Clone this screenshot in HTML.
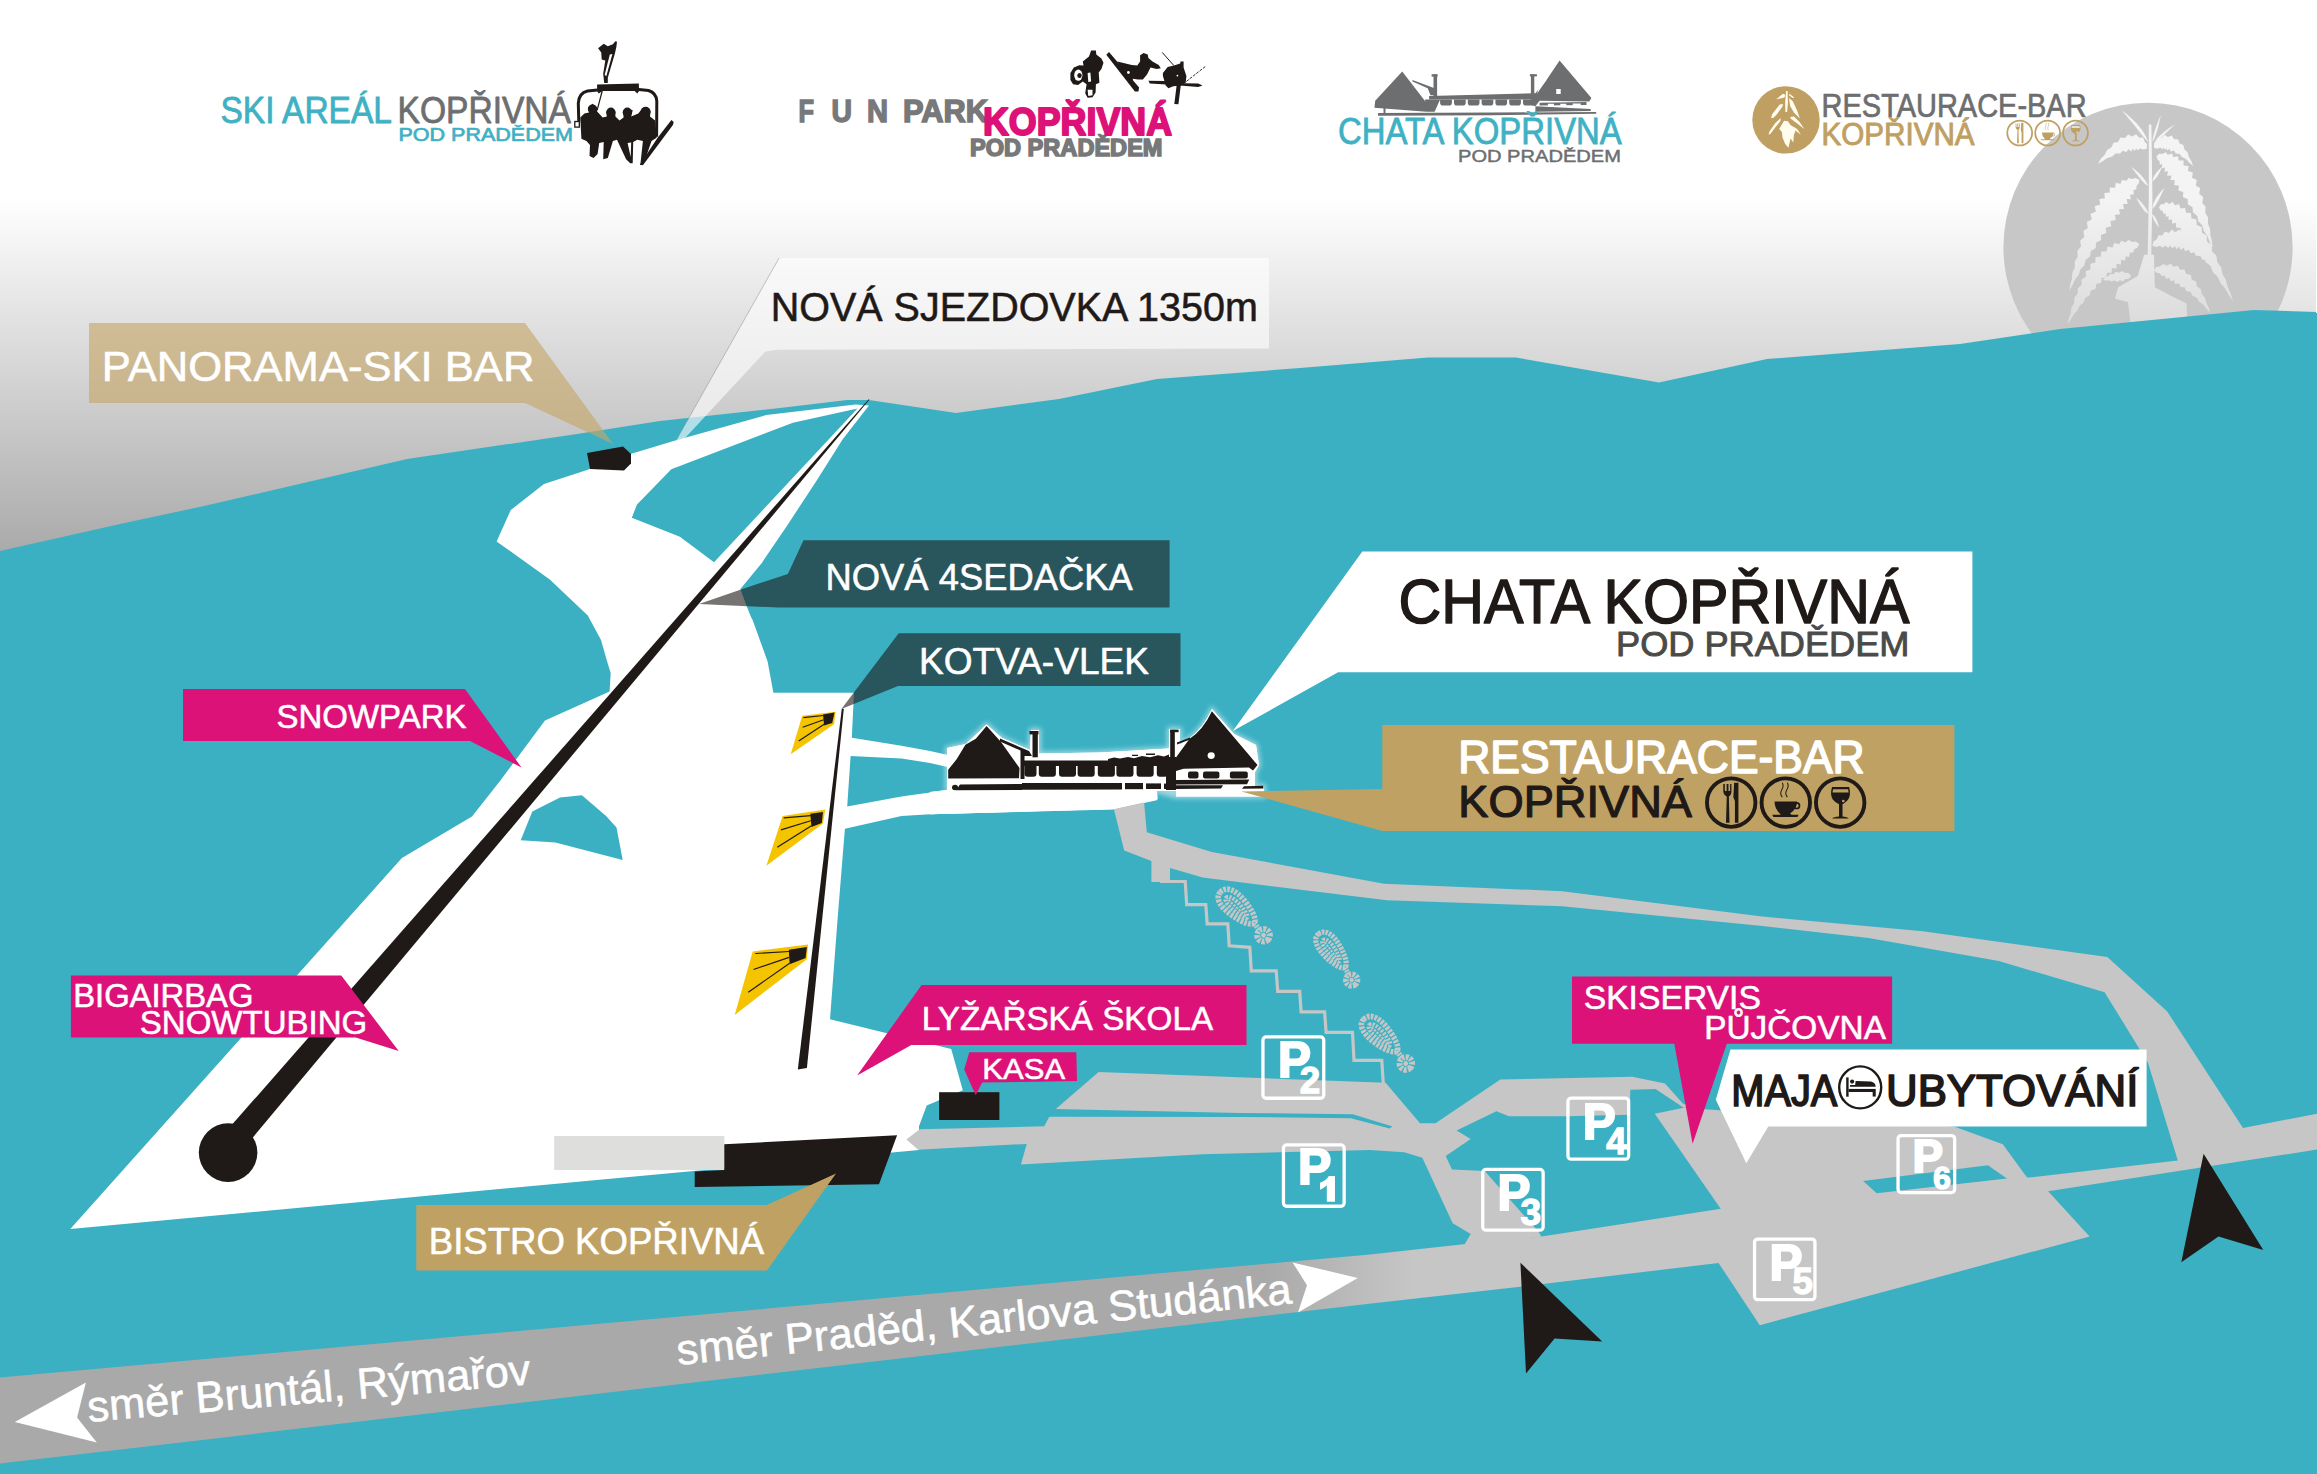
<!DOCTYPE html>
<html><head><meta charset="utf-8"><title>Ski areál Kopřivná - mapa</title>
<style>
html,body{margin:0;padding:0;background:#fff;}
body{width:2317px;height:1474px;overflow:hidden;font-family:"Liberation Sans",sans-serif;}
svg{display:block;position:absolute;left:0;top:0;}
text{font-family:"Liberation Sans",sans-serif;}
#labels text:not([stroke]){stroke:#fff;stroke-width:0.55px;stroke-linejoin:round;}
</style></head><body>
<svg width="2317" height="1474" viewBox="0 0 2317 1474">
<defs>
<linearGradient id="sky" x1="0" y1="0" x2="0" y2="1474" gradientUnits="userSpaceOnUse">
<stop offset="0" stop-color="#ffffff"/><stop offset="0.134" stop-color="#ffffff"/><stop offset="0.38" stop-color="#a8a8a8"/><stop offset="1" stop-color="#a8a8a8"/>
</linearGradient>
<linearGradient id="road" x1="0" y1="0" x2="2317" y2="0" gradientUnits="userSpaceOnUse">
<stop offset="0" stop-color="#a9a9a9"/><stop offset="0.545" stop-color="#a9a9a9"/><stop offset="0.61" stop-color="#c5c6c5"/><stop offset="1" stop-color="#c5c6c5"/>
</linearGradient>
</defs>
<!-- SKY -->
<rect x="0" y="0" width="2317" height="1474" fill="url(#sky)"/>
<!-- BIGCIRCLE -->
<circle cx="2148" cy="247.4" r="144.6" fill="#c6c7c6"/>
<path fill="url(#sky)" opacity="0.8" d="M2148.8,124.4 L2151.4,124.4 L2152.4,197.7 L2151.1,262.8 L2152.4,328.0 L2145.8,328.0 L2147.5,262.8 L2148.8,197.7 Z M2148.3,142.3 L2145.6,135.8 L2141.9,129.8 L2137.5,124.3 L2132.5,119.2 L2127.2,114.5 L2121.4,110.1 L2121.4,110.1 L2126.2,115.5 L2130.7,120.9 L2135.1,126.3 L2139.3,131.8 L2143.6,137.1 L2148.3,142.3 Z M2152.4,142.3 L2154.5,138.2 L2156.2,133.8 L2157.6,129.3 L2158.8,124.6 L2159.8,119.9 L2160.8,115.0 L2160.8,115.0 L2158.9,119.6 L2157.1,124.1 L2155.5,128.7 L2154.0,133.2 L2152.9,137.7 L2152.4,142.3 Z M2154.0,143.2 L2157.9,140.3 L2161.5,137.2 L2164.9,134.0 L2168.3,130.8 L2171.7,127.6 L2175.2,124.4 L2175.2,124.4 L2171.1,126.8 L2167.2,129.5 L2163.4,132.4 L2159.9,135.6 L2156.7,139.1 L2154.0,143.2 Z M2146.7,148.9 L2147.1,144.1 L2144.7,141.9 L2143.1,137.5 L2139.2,137.7 L2136.1,134.2 L2132.2,136.5 L2128.1,134.4 L2125.0,138.1 L2120.5,137.5 L2118.0,141.9 L2113.6,142.8 L2111.3,147.5 L2107.1,150.0 L2104.6,154.9 L2100.8,158.8 L2097.8,163.8 L2097.8,163.8 L2103.0,161.1 L2107.2,157.9 L2112.3,156.6 L2115.5,153.6 L2120.2,153.6 L2122.6,150.7 L2126.6,152.1 L2128.4,149.2 L2131.3,151.5 L2132.8,148.6 L2134.4,151.1 L2136.4,148.4 L2137.4,150.3 L2140.4,148.4 L2142.2,149.6 L2146.7,148.9 Z M2154.0,148.0 L2158.2,148.7 L2160.0,147.6 L2162.8,149.3 L2163.6,147.6 L2165.1,150.1 L2166.4,148.0 L2167.2,150.6 L2169.7,148.8 L2170.6,151.4 L2174.2,150.6 L2175.6,153.4 L2179.7,154.0 L2181.9,157.1 L2186.0,159.1 L2189.1,162.6 L2193.1,166.0 L2193.1,166.0 L2191.4,161.0 L2188.9,156.9 L2187.6,152.2 L2184.5,149.4 L2183.3,144.9 L2179.6,143.4 L2178.1,139.2 L2174.1,139.2 L2171.7,135.5 L2167.8,137.1 L2164.5,134.8 L2161.4,137.9 L2157.9,137.6 L2156.3,141.6 L2153.9,143.5 L2154.0,148.0 Z M2148.3,186.3 L2146.6,182.4 L2144.2,178.9 L2141.4,175.6 L2138.3,172.5 L2134.8,169.6 L2131.2,166.8 L2131.2,166.8 L2133.9,170.5 L2136.6,174.0 L2139.3,177.5 L2142.0,180.7 L2144.9,183.7 L2148.3,186.3 Z M2152.4,181.4 L2154.9,179.3 L2156.9,176.9 L2158.5,174.4 L2159.9,171.8 L2161.2,169.1 L2162.5,166.4 L2162.5,166.4 L2160.2,168.4 L2158.1,170.5 L2156.2,172.8 L2154.4,175.4 L2153.1,178.2 L2152.4,181.4 Z M2148.3,214.0 L2147.3,210.6 L2145.6,207.7 L2143.5,204.9 L2141.2,202.3 L2138.7,199.8 L2136.1,197.4 L2136.1,197.4 L2137.7,200.6 L2139.4,203.7 L2141.3,206.6 L2143.2,209.4 L2145.5,211.9 L2148.3,214.0 Z M2152.4,209.1 L2155.2,205.9 L2157.3,202.4 L2159.2,198.9 L2161.0,195.3 L2162.8,191.6 L2164.6,187.9 L2164.6,187.9 L2161.6,190.8 L2158.9,194.0 L2156.5,197.3 L2154.5,200.9 L2152.9,204.8 L2152.4,209.1 Z M2152.0,214.0 L2152.4,216.6 L2153.3,219.0 L2154.5,221.3 L2155.9,223.5 L2157.5,225.7 L2159.2,227.8 L2159.2,227.8 L2158.5,225.2 L2157.7,222.6 L2156.7,220.1 L2155.6,217.8 L2154.1,215.7 L2152.0,214.0 Z M2139.3,179.8 L2135.3,177.9 L2132.7,179.1 L2128.4,178.0 L2126.6,180.8 L2121.8,179.9 L2120.7,183.7 L2115.6,183.1 L2115.1,187.7 L2109.7,187.5 L2109.8,192.6 L2104.3,192.9 L2104.9,198.3 L2099.3,199.1 L2100.2,204.7 L2094.7,206.0 L2095.8,211.8 L2090.6,213.7 L2091.7,219.6 L2086.8,222.1 L2087.9,228.0 L2083.4,231.0 L2084.3,237.0 L2080.2,240.6 L2081.0,246.5 L2077.4,250.7 L2077.8,256.7 L2074.8,261.4 L2074.8,267.4 L2072.4,272.6 L2071.9,278.7 L2070.2,284.4 L2069.3,290.5 L2069.3,290.5 L2072.5,285.2 L2074.9,279.8 L2078.6,275.0 L2080.3,269.6 L2084.5,265.3 L2085.6,260.0 L2090.2,256.3 L2090.8,251.0 L2095.8,247.9 L2095.9,242.7 L2101.2,240.1 L2100.9,234.9 L2106.3,232.9 L2105.7,227.7 L2111.3,226.2 L2110.4,221.0 L2115.9,220.0 L2114.8,214.9 L2120.1,214.3 L2119.0,209.2 L2124.0,209.1 L2123.0,204.0 L2127.6,204.1 L2126.7,199.1 L2130.8,199.3 L2130.2,194.5 L2133.7,194.5 L2133.5,190.1 L2136.3,189.6 L2136.6,185.6 L2138.6,184.0 L2139.3,179.8 Z M2156.4,156.2 L2157.7,159.9 L2159.4,160.8 L2159.9,164.4 L2162.2,164.2 L2162.0,168.2 L2165.0,167.6 L2164.4,171.8 L2168.0,171.3 L2167.1,175.7 L2171.4,175.5 L2170.4,180.0 L2175.0,180.3 L2174.1,184.9 L2179.0,185.8 L2178.3,190.5 L2183.3,192.1 L2182.9,196.9 L2187.8,199.2 L2187.8,204.2 L2192.5,207.2 L2192.9,212.3 L2197.3,215.9 L2198.3,221.2 L2202.3,225.6 L2203.8,231.1 L2207.3,236.1 L2209.6,241.7 L2212.6,247.4 L2212.6,247.4 L2211.9,241.0 L2210.4,235.1 L2210.1,228.9 L2207.9,223.6 L2208.1,217.5 L2205.2,212.8 L2205.7,207.0 L2202.3,202.9 L2203.1,197.1 L2199.2,193.7 L2200.2,188.1 L2195.8,185.4 L2196.8,179.9 L2192.0,177.8 L2192.9,172.5 L2188.0,171.1 L2188.6,166.0 L2183.5,165.4 L2183.6,160.5 L2178.6,160.6 L2178.1,156.2 L2173.3,156.9 L2172.1,153.4 L2167.7,154.7 L2165.8,152.2 L2162.0,154.0 L2159.5,153.5 L2156.4,156.2 Z M2158.9,207.5 L2160.8,210.4 L2162.5,210.8 L2163.5,213.9 L2165.4,213.3 L2165.9,216.9 L2168.5,216.0 L2168.6,219.9 L2172.0,219.2 L2172.0,223.4 L2176.1,223.1 L2176.0,227.6 L2180.7,227.9 L2180.8,232.6 L2185.8,233.6 L2186.1,238.5 L2191.4,240.2 L2192.1,245.4 L2197.4,247.8 L2198.6,253.2 L2203.8,256.4 L2205.5,262.1 L2210.6,266.1 L2212.8,272.0 L2217.7,276.7 L2220.5,282.9 L2225.1,288.4 L2228.7,294.8 L2233.0,301.1 L2233.0,301.1 L2230.7,293.8 L2227.7,287.1 L2225.9,280.1 L2222.5,274.2 L2221.2,267.4 L2217.3,262.3 L2216.4,255.8 L2212.1,251.4 L2211.6,245.1 L2207.0,241.5 L2206.7,235.5 L2201.9,232.7 L2201.7,226.9 L2196.7,224.9 L2196.5,219.4 L2191.4,218.3 L2191.0,213.1 L2186.0,212.7 L2185.2,208.0 L2180.4,208.4 L2179.2,204.3 L2174.7,205.3 L2172.8,202.1 L2168.9,203.9 L2166.5,202.0 L2163.4,204.2 L2160.9,204.3 L2158.9,207.5 Z M2139.3,244.1 L2135.7,241.5 L2132.5,242.0 L2128.4,240.1 L2125.7,242.4 L2121.2,240.8 L2119.1,244.3 L2114.1,243.0 L2112.6,247.4 L2107.4,246.6 L2106.5,251.6 L2101.2,251.4 L2100.7,256.7 L2095.5,257.1 L2095.4,262.6 L2090.4,263.8 L2090.4,269.4 L2085.7,271.2 L2085.9,276.8 L2081.5,279.4 L2081.6,285.0 L2077.8,288.2 L2077.7,293.8 L2074.4,297.6 L2074.1,303.2 L2071.4,307.7 L2070.7,313.2 L2068.8,318.3 L2067.7,323.9 L2067.7,323.9 L2071.0,319.3 L2073.6,314.6 L2077.4,310.6 L2079.4,305.9 L2083.6,302.6 L2085.1,297.9 L2089.7,295.3 L2090.7,290.7 L2095.6,288.7 L2096.2,284.1 L2101.3,282.8 L2101.6,278.1 L2106.7,277.5 L2106.7,272.8 L2111.8,272.8 L2111.7,268.1 L2116.5,268.5 L2116.5,263.8 L2120.9,264.5 L2121.1,259.8 L2125.0,260.7 L2125.6,256.2 L2129.0,256.9 L2130.1,252.6 L2133.0,252.8 L2134.6,249.0 L2137.2,248.0 L2139.3,244.1 Z M2131.2,275.9 L2128.2,272.8 L2125.2,272.9 L2122.0,271.0 L2119.2,272.8 L2116.0,271.7 L2113.3,274.2 L2110.3,274.1 L2107.8,276.6 L2105.1,277.7 L2102.7,279.9 L2102.7,279.9 L2105.8,280.6 L2108.7,280.3 L2111.8,281.6 L2114.4,280.5 L2117.5,282.0 L2120.0,280.3 L2122.9,281.4 L2125.5,279.1 L2128.4,279.0 L2131.2,275.9 Z M2152.4,245.7 L2156.8,246.9 L2159.5,245.7 L2163.2,247.4 L2165.2,245.4 L2168.3,247.9 L2170.2,245.5 L2172.5,248.5 L2174.7,245.9 L2176.5,249.2 L2179.1,246.6 L2180.5,250.0 L2183.8,247.8 L2185.0,251.2 L2188.9,249.7 L2190.2,253.1 L2194.4,252.4 L2195.9,255.8 L2200.3,256.1 L2202.3,259.5 L2206.6,260.8 L2209.0,264.2 L2213.1,266.6 L2216.1,270.1 L2219.9,273.4 L2219.9,273.4 L2218.2,268.7 L2215.6,264.7 L2214.2,260.0 L2211.0,256.9 L2209.7,252.2 L2206.1,250.0 L2204.8,245.3 L2200.8,244.1 L2199.4,239.4 L2195.1,239.2 L2193.3,234.7 L2188.9,235.5 L2186.5,231.3 L2182.3,233.1 L2179.3,229.4 L2175.4,232.2 L2171.9,229.5 L2168.7,233.0 L2164.9,231.5 L2162.3,235.4 L2158.6,235.3 L2156.6,239.4 L2153.6,241.2 L2152.4,245.7 Z M2154.0,270.2 L2157.1,273.1 L2159.7,273.3 L2162.0,276.3 L2164.6,275.5 L2166.2,278.9 L2169.2,277.7 L2170.5,281.3 L2174.0,280.3 L2175.1,284.0 L2179.2,283.4 L2180.3,287.1 L2184.7,287.2 L2186.1,291.0 L2190.6,292.0 L2192.5,295.8 L2196.9,297.8 L2199.2,301.7 L2203.4,304.6 L2206.4,308.7 L2210.2,312.5 L2210.2,312.5 L2208.6,307.3 L2206.2,302.8 L2204.9,297.8 L2201.8,294.1 L2200.7,289.1 L2197.0,286.4 L2196.0,281.4 L2191.8,279.7 L2190.7,274.8 L2186.2,274.1 L2184.6,269.5 L2180.0,269.7 L2177.9,265.7 L2173.5,266.8 L2170.8,263.7 L2166.6,265.7 L2163.5,263.9 L2159.9,266.4 L2156.7,266.7 L2154.0,270.2 Z M2114.9,298.7 L2118.2,287.3 L2137.7,275.9 L2144.2,254.7 L2154.0,254.7 L2154.8,287.3 L2170.3,295.4 L2186.6,303.6 L2187.4,328.0 L2131.2,328.0 L2127.9,301.9 Z"/>
<!-- TEAL GROUND -->
<path id="ground" fill="#3bb0c3" d="M0,551 L120,524 L204,506 L407,459 L577,434 L660,421 L780,408 L847,400 L869,400 L956,413 L1059,399 L1157,379 L1300,368 L1428,357.5 L1516,357.5 L1659,382.5 L1767,359 L1960,344 L2060,329 L2254,310 L2317,312 L2317,1474 L0,1474 Z"/>
<rect x="2316" y="0" width="1" height="313" fill="#fff"/>
<!-- SLOPES -->
<g id="slopes">
<path fill="#ffffff" d="M869,405.5 L855.6,404.5 L766.3,415 L677,440 L630.5,454 L587,470 L544,484 L510.8,510 L496.6,541.4 L549.8,579.4 L587.8,615.5 L601,640 L606.7,660 L610.7,673 L609.6,691.5 L545,720.4 L500.8,780 L472,816.5 L401.9,858 L70.3,1229 L919,1150 L919,1126.3 L926.7,1105.6 L962.8,1090.2 L951.2,1048.9 L830,1019.3 L837.5,920 L844.9,828.8 L901.4,816.1 L930,814.3 L1113.3,809.6 L1156.8,800.3 L1156.8,780 L948,755 L930,751 L901.4,745.7 L851.8,737.7 L854,692.7 L773.4,692.7 L767.6,661.5 L752.6,620 L751,617 L746.5,605.7 L740.4,588.9 L761.8,562.9 L787.7,524.7 L816.7,480.5 L842.7,439.3 Z"/>
<!-- teal notch below upper arm -->
<path fill="#3bb0c3" d="M857.5,408.5 L792.9,422.7 L671.3,469.3 L637,504.4 L631.8,517.7 L679.9,536.7 L714,562.3 Z"/>
<!-- teal blob in slope -->
<path fill="#3bb0c3" d="M520.7,840.3 L532.3,811.5 L560,797.6 L581.9,795.3 L606.1,816 L616.5,827.6 L622.7,860 L555.4,842.6 Z"/>
<!-- teal block between paths -->
<path fill="#3bb0c3" d="M850.6,756.1 L901.4,758.4 L930,763 L952,768 L952,791.9 L930,792.5 L901.4,796.5 L847.2,806.4 Z"/>
<!-- chairlift line (tapered) -->
<path fill="#1f1a17" d="M869.5,399.6 L868.7,399.2 L225.5,1132.1 L244.1,1147.9 Z"/>
<circle cx="228.1" cy="1152.6" r="29.3" fill="#1f1a17"/>
<!-- kotva line -->
<path fill="#1f1a17" d="M841.8,708.8 L843.8,708.8 L806.9,1068 L797.8,1069.5 Z"/>
</g>
<!-- ROADS -->
<g id="roads" fill="#c5c6c5">
<!-- main road bottom -->
<path fill="url(#road)" d="M0,1377.6 L1370,1254.4 L1463.6,1244.3 L1541.7,1236.5 L1722.7,1208.4 L1760,1262 L1720.7,1262.7 L1520.4,1286.7 L1380,1302.5 L0,1463.5 Z"/>
<!-- road from chata to the right + exit -->
<path d="M1113.6,808 L1143.8,799 L1146.8,832.3 L1211.8,852 L1384,883.7 L1562.2,891.2 L1760,916.3 L1922.8,931.2 L2107.3,957 L2167,1011.2 L2243,1127.9 L2317,1113.8 L2317,1149.6 L2044.9,1191.7 L2024.5,1178.1 L2177.8,1160.5 L2148,1062.8 L2104.6,992.2 L1998.8,961 L1868.5,938 L1760,925.8 L1562.2,906.3 L1387,900.3 L1202.7,877.6 L1170,868 L1170,882 L1151.4,882 L1151.4,861 L1124.2,850.4 Z"/>
<!-- stairs -->
<path fill="none" stroke="#c5c6c5" stroke-width="3.2" stroke-linejoin="miter" d="M1160,881.5 L1185.2,881.5 L1186.7,904.7 L1205.8,904.7 L1207.2,923.8 L1227.8,923.8 L1229.2,945.8 L1249.8,947.3 L1251.3,970.8 L1276.2,970.8 L1277.7,991.3 L1299.7,991.3 L1301.1,1011.8 L1324.6,1011.8 L1326.1,1032.4 L1352.5,1032.4 L1354,1060.3 L1381.8,1060.3 L1383.3,1084"/>
<g id="feet"><g transform="translate(1237,908) rotate(43.5) scale(1.0)" fill="none" stroke="#c5c6c5">
<path d="M-23,0 C-23,-9.5 -12,-12 0,-10.5 C12,-9 21,-6 23,-1.5 C23,3 14,7 0,9 C-12,10.5 -23,8.5 -23,0 Z" stroke-width="5.6" stroke-dasharray="2.7 1.2"/>
<path d="M-15,0 C-15,-4.2 -6,-5.2 2,-4.2 C9,-3.2 14,-2 14,0 C14,2 9,3 2,3.8 C-6,4.8 -15,4 -15,0 Z" stroke-width="4.2" stroke-dasharray="2.2 1.3"/>
<path d="M-12,0 L12,0" stroke-width="2.2" stroke-dasharray="2.4 1.2"/>
<path d="M23,-1 L31,0.5" stroke-width="5.5" stroke-dasharray="2 1.1"/>
<circle cx="38" cy="1.5" r="6.3" stroke-width="6" stroke-dasharray="2.8 1.2"/>
<circle cx="38" cy="1.5" r="2.4" fill="#c5c6c5" stroke="none"/>
</g><g transform="translate(1331.5,951) rotate(53) scale(0.93)" fill="none" stroke="#c5c6c5">
<path d="M-23,0 C-23,-9.5 -12,-12 0,-10.5 C12,-9 21,-6 23,-1.5 C23,3 14,7 0,9 C-12,10.5 -23,8.5 -23,0 Z" stroke-width="5.6" stroke-dasharray="2.7 1.2"/>
<path d="M-15,0 C-15,-4.2 -6,-5.2 2,-4.2 C9,-3.2 14,-2 14,0 C14,2 9,3 2,3.8 C-6,4.8 -15,4 -15,0 Z" stroke-width="4.2" stroke-dasharray="2.2 1.3"/>
<path d="M-12,0 L12,0" stroke-width="2.2" stroke-dasharray="2.4 1.2"/>
<path d="M23,-1 L31,0.5" stroke-width="5.5" stroke-dasharray="2 1.1"/>
<circle cx="38" cy="1.5" r="6.3" stroke-width="6" stroke-dasharray="2.8 1.2"/>
<circle cx="38" cy="1.5" r="2.4" fill="#c5c6c5" stroke="none"/>
</g><g transform="translate(1380,1035.5) rotate(45) scale(1.0)" fill="none" stroke="#c5c6c5">
<path d="M-23,0 C-23,-9.5 -12,-12 0,-10.5 C12,-9 21,-6 23,-1.5 C23,3 14,7 0,9 C-12,10.5 -23,8.5 -23,0 Z" stroke-width="5.6" stroke-dasharray="2.7 1.2"/>
<path d="M-15,0 C-15,-4.2 -6,-5.2 2,-4.2 C9,-3.2 14,-2 14,0 C14,2 9,3 2,3.8 C-6,4.8 -15,4 -15,0 Z" stroke-width="4.2" stroke-dasharray="2.2 1.3"/>
<path d="M-12,0 L12,0" stroke-width="2.2" stroke-dasharray="2.4 1.2"/>
<path d="M23,-1 L31,0.5" stroke-width="5.5" stroke-dasharray="2 1.1"/>
<circle cx="38" cy="1.5" r="6.3" stroke-width="6" stroke-dasharray="2.8 1.2"/>
<circle cx="38" cy="1.5" r="2.4" fill="#c5c6c5" stroke="none"/>
</g></g>
<!-- parking roads -->
<path d="M906.4,1139.5 L919.6,1129.2 L1044.3,1126.3 L1048.8,1117.5 L1056.1,1108.7 L1098.6,1072 L1385.6,1082.8 L1420,1123.3 L1435.5,1123.3 L1500.3,1079.6 L1632.2,1076.8 L1665,1083.6 L1683.7,1104.6 L1700,1100 L1700,1106 L1683.7,1107.7 L1655.6,1089 L1630.3,1089.8 L1629.8,1114.8 L1566.6,1116.3 L1508.9,1116.3 L1496.4,1111.3 L1456.6,1130.4 L1470.7,1139 L1445.7,1156 L1452,1169.4 L1484.7,1171 L1537.8,1231 L1541.7,1236.5 L1463.6,1246 L1470.7,1234.1 L1452.7,1223.2 L1422.3,1157.7 L1404.3,1152.2 L1370,1149.9 L1202.8,1154.2 L1020.9,1164.5 L1026.7,1143.9 L918.2,1149.8 Z"/>
<!-- thin teal sliver between strips -->
<path fill="#3bb0c3" d="M1054.2,1109.1 L1240,1112.9 L1352.8,1114.3 L1392.5,1126.6 L1389.5,1128.6 L1351,1118.3 L1240,1117 L1049.9,1116.8 L1047,1117.6 L1055,1108 Z"/>
<!-- big lot P5/P6 -->
<path d="M1654.8,1113.7 L1683.7,1107.7 L1954,1126.5 L2002.8,1144.2 L2026.5,1176.8 L2047,1190 L2089.6,1236.4 L1759.8,1325.2 L1718.7,1263.2 L1720.7,1208.8 Z"/>
<path fill="#3bb0c3" d="M1863.1,1181 L1987.9,1165.2 L2006.9,1178.6 L1876.7,1193.3 Z"/>
</g>
<!-- BUILDINGS -->
<g id="buildings">
<path fill="#1f1a17" d="M587,453 L623,446.5 L631,454 L631,463.5 L624,470.5 L590,469 Z"/>
<rect x="554.2" y="1136" width="170.2" height="34" fill="#dededd"/>
<path fill="#1f1a17" d="M724.3,1144.3 L897.1,1135.3 L879,1184.3 L694.7,1186.9 L694.7,1171.4 L724.3,1170 Z"/>
<rect x="939.1" y="1092.2" width="60.3" height="27.8" fill="#1f1a17"/>
<path fill="#f5c400" d="M802.2,715.7 L835.7,711.8 L834.0,724.3 L790.7,754.3 Z"/><path fill="#1f1a17" d="M823.0,714.6 L834.5,712.5 L832.2,723.1 L824.1,725.4 Z"/><line x1="803.4" y1="717.6" x2="823.4" y2="715.5" stroke="#1f1a17" stroke-width="1.2"/><line x1="802.7" y1="727.3" x2="823.7" y2="719.7" stroke="#1f1a17" stroke-width="1.2"/><line x1="798.7" y1="741.1" x2="824.1" y2="724.3" stroke="#1f1a17" stroke-width="1.2"/>
<path fill="#f5c400" d="M782.6,816.1 L825.3,809.6 L823.0,823.5 L766.4,865.7 Z"/><path fill="#1f1a17" d="M810.3,813.8 L823.0,811.9 L821.8,823.0 L811.4,826.9 Z"/><line x1="783.7" y1="817.9" x2="810.7" y2="815.6" stroke="#1f1a17" stroke-width="1.2"/><line x1="781.0" y1="829.9" x2="810.7" y2="820.7" stroke="#1f1a17" stroke-width="1.2"/><line x1="777.3" y1="847.2" x2="811.4" y2="825.8" stroke="#1f1a17" stroke-width="1.2"/>
<path fill="#f5c400" d="M752.7,951.5 L808.1,944.5 L806.9,959.2 L734.7,1014.9 Z"/><path fill="#1f1a17" d="M788.8,949.7 L806.9,947.1 L805.6,957.9 L789.6,964.3 Z"/><line x1="755.3" y1="953.5" x2="789.1" y2="951.5" stroke="#1f1a17" stroke-width="1.2"/><line x1="753.5" y1="969.5" x2="789.1" y2="957.4" stroke="#1f1a17" stroke-width="1.2"/><line x1="748.3" y1="992.2" x2="789.6" y2="963.3" stroke="#1f1a17" stroke-width="1.2"/>
<g id="chata">
<defs><filter id="glow" x="-10%" y="-30%" width="120%" height="160%"><feGaussianBlur stdDeviation="2.6"/></filter></defs>
<path id="chbase" fill="#ffffff" d="M947,771 L947,748 L966,744 L986.6,724.5 L1002,738 L1030,750 L1031,730 L1039,730 L1039,753.5 L1100,752.5 L1169,748.5 L1169,729 L1180,729 L1180,744.5 L1190.5,737.5 Q1203,728 1212,709 L1234,734 L1256,745 L1259,765 L1255,772 L1255,786 L1264,786 L1264,796.5 L1176,796.5 L1176,791 L1157,791 L1157.5,799.3 L1113.6,809 L930,814.3 L930,792 L947,790 Z"/>
<path fill="#ffffff" stroke="#ffffff" stroke-width="4" opacity="0.5" filter="url(#glow)" d="M947,771 L947,748 L966,744 L986.6,724.5 L1002,738 L1030,750 L1031,730 L1039,730 L1039,753.5 L1100,752.5 L1169,748.5 L1169,729 L1180,729 L1180,744.5 L1190.5,737.5 Q1203,728 1212,709 L1234,734 L1256,745 L1259,765 L1255,772 L1255,786 L1264,786 L1264,796.5 L1176,796.5 L1157,791 L947,790 Z"/>
<use href="#chbase"/>
<g fill="#1f1a17">
<!-- left roof -->
<path d="M986.6,726 L975.8,738.8 L965.4,744.8 L956.8,759 L948.2,769.8 L948.2,778.6 L1019,778.2 L1019.5,768 L1001,742 Z"/>
<path d="M1000,738.5 L1029,751 L1032,756 L1024.5,756 L1024.5,779 L1020.5,779 L1020.5,750.5 L1000,741.5 Z"/>
<rect x="1032.5" y="731.3" width="5.3" height="26"/><rect x="1029.5" y="731" width="9" height="3.4"/>
<path d="M960,784.6 L1022,784 L1022,790 L956,790.3 Z"/><ellipse cx="955" cy="787.5" rx="3" ry="2.8"/>
<!-- middle -->
<rect x="1022" y="760.5" width="154" height="5.5"/>
<path d="M1024.5,764 L1036.5,764 L1036.5,773.5 Q1036.5,776.8 1033.5,776.8 L1027.5,776.8 Q1024.5,776.8 1024.5,773.5 Z"/><path d="M1038.8,764 L1055.9,764 L1055.9,773.5 Q1055.9,776.8 1052.9,776.8 L1041.8,776.8 Q1038.8,776.8 1038.8,773.5 Z"/><path d="M1059,764 L1076,764 L1076,773.5 Q1076,776.8 1073,776.8 L1062,776.8 Q1059,776.8 1059,773.5 Z"/><path d="M1077.6,764 L1094.7,764 L1094.7,773.5 Q1094.7,776.8 1091.7,776.8 L1080.6,776.8 Q1077.6,776.8 1077.6,773.5 Z"/><path d="M1097.8,764 L1114.9,764 L1114.9,773.5 Q1114.9,776.8 1111.9,776.8 L1100.8,776.8 Q1097.8,776.8 1097.8,773.5 Z"/><path d="M1116.4,764 L1133.5,764 L1133.5,773.5 Q1133.5,776.8 1130.5,776.8 L1119.4,776.8 Q1116.4,776.8 1116.4,773.5 Z"/><path d="M1136.6,764 L1153.7,764 L1153.7,773.5 Q1153.7,776.8 1150.7,776.8 L1139.6,776.8 Q1136.6,776.8 1136.6,773.5 Z"/><path d="M1156.8,764 L1167.7,764 L1167.7,773.5 Q1167.7,776.8 1164.7,776.8 L1159.8,776.8 Q1156.8,776.8 1156.8,773.5 Z"/>
<path d="M1022,783 L1122,783 L1122,789.4 L1022,789.8 Z"/>
<rect x="1125" y="783" width="18" height="6.2"/><rect x="1146" y="783.4" width="15" height="5.6"/><rect x="1164" y="783.6" width="12" height="5.4"/>
<path d="M1108,759 L1114,757.6 L1120,758.6 L1128,757 L1134,758.2 L1142,756 L1150,757.2 L1158,755.2 L1164,756.4 L1169,754.6 L1169,761 L1108,761 Z"/><path d="M1146,753.4 h9 v1.6 h-9 Z M1132,754.8 h6 v1.2 h-6 Z"/>
<!-- right roof -->
<path d="M1211.9,711.2 L1257.5,765 L1253,770.4 L1249,767.5 L1183.6,768.7 L1176,771 L1176,757.5 L1189.6,738.8 Q1203,730 1211.9,711.2 Z"/>
<rect x="1170.2" y="729.9" width="4.6" height="60"/><rect x="1170.2" y="729.6" width="8.4" height="2.6"/>
<path d="M1177,742.5 L1190,737.5 L1190,739.5 L1177,744.5 Z"/>
<rect x="1166" y="757" width="10" height="33"/>
<!-- right wall -->
<rect x="1188" y="771.6" width="10.5" height="6.8" rx="2"/><rect x="1203" y="771.6" width="16.4" height="6.8" rx="2"/><rect x="1229.9" y="771.6" width="17.9" height="6.8" rx="2"/>
<path d="M1174.6,779.9 L1249.3,779.5 L1247,784.3 L1174.6,784.6 Z"/>
<path d="M1174.6,785.3 L1223,785.3 L1221,788.6 L1174.6,789 Z"/>
<path d="M1244,786.2 L1263.4,785.8 L1263.4,788.6 L1242,788.8 Z"/>
</g>
<ellipse cx="1211.2" cy="755.6" rx="3.6" ry="3.4" fill="#ffffff"/>
<path fill="#ffffff" d="M1236.6,737.3 L1255.2,746.3 L1255.2,762 Z"/>
</g>
<!-- black arrows -->
<path fill="#1f1a17" d="M1520.4,1262.7 L1602.2,1341.6 L1554.6,1338.4 L1526,1373.4 Z"/>
<path fill="#1f1a17" d="M2203.6,1153.7 L2263.3,1250 L2218.5,1236.4 L2181.3,1262.2 Z"/>
<!-- white arrows on main road -->
<path fill="#ffffff" d="M14.8,1421.9 L85.9,1382.5 L77.1,1417.6 L96.8,1442.5 Z"/>
<path fill="#ffffff" d="M1357.8,1278 L1292.6,1262.4 L1307,1285.2 L1298,1312.4 Z"/>
</g>
<!-- LABELS -->
<g id="labels">
<!-- panorama -->
<path fill="#c5a767" fill-opacity="0.62" d="M89,323 L525,323 L613,444 L525,403 L89,403 Z"/>
<text x="101.8" y="381.4" font-size="42.7" fill="#fff" text-anchor="start" font-weight="normal" textLength="432.6" lengthAdjust="spacingAndGlyphs">PANORAMA-SKI BAR</text>
<!-- nova sjezdovka -->
<path fill="#ffffff" fill-opacity="0.6" d="M779.1,258 L1269,258 L1269,348.6 L779,349.8 Q768,350.5 765,352 L684.4,438.8 L676.3,440.2 Z"/><path d="M779.1,258 L676.3,440.2" stroke="#8a8a8a" stroke-width="0.7" stroke-opacity="0.7" fill="none"/>

<text stroke="#1f1a17" stroke-width="0.55" x="770.8" y="321" font-size="39.8" fill="#1f1a17" text-anchor="start" font-weight="normal" textLength="487" lengthAdjust="spacingAndGlyphs">NOVÁ SJEZDOVKA 1350m</text>
<!-- nova 4sedacka -->
<path fill="#1e1c1a" fill-opacity="0.61" d="M803.5,540.2 L1169.6,540.2 L1169.6,607.6 L778.6,607.6 L699,604 L741,589.5 L787.9,573.9 Z"/>
<text x="825.5" y="589.5" font-size="37.4" fill="#fff" text-anchor="start" font-weight="normal" textLength="307.3" lengthAdjust="spacingAndGlyphs">NOVÁ 4SEDAČKA</text>
<!-- kotva -->
<path fill="#1e1c1a" fill-opacity="0.61" d="M898.7,633.2 L1180.5,633.2 L1180.5,686 L898,686 L841.4,709 Z"/>
<text x="919" y="673.5" font-size="36.8" fill="#fff" text-anchor="start" font-weight="normal" textLength="230" lengthAdjust="spacingAndGlyphs">KOTVA-VLEK</text>
<!-- snowpark -->
<path fill="#dc1279" d="M183,689 L465,689 L521.5,767.5 L470,741 L183,741 Z"/>
<text x="276.5" y="728.2" font-size="32.6" fill="#fff" text-anchor="start" font-weight="normal" textLength="190" lengthAdjust="spacingAndGlyphs">SNOWPARK</text>
<!-- bigairbag -->
<path fill="#dc1279" d="M70.9,975.5 L341.3,975.5 L398.7,1051 L355.7,1037.6 L70.9,1037.6 Z"/>
<text x="73.2" y="1007.3" font-size="32.6" fill="#fff" text-anchor="start" font-weight="normal" textLength="180.2" lengthAdjust="spacingAndGlyphs">BIGAIRBAG</text>
<text x="139.8" y="1033.9" font-size="32.8" fill="#fff" text-anchor="start" font-weight="normal" textLength="227.4" lengthAdjust="spacingAndGlyphs">SNOWTUBING</text>
<!-- lyzarska -->
<path fill="#dc1279" d="M921.6,985 L1246.5,985 L1246.5,1045 L911.3,1045 L857.1,1075.5 Z"/>
<!-- kasa -->
<path fill="#dc1279" d="M969.3,1052.3 L1076.3,1052.3 L1077,1081.1 L982.2,1082.4 L975.7,1095.3 L964.2,1069.5 Z"/>
<!-- bistro -->
<path fill="#bfa263" d="M416.3,1204.9 L766.9,1204.9 L836,1173.4 L766.9,1270.6 L416.3,1270.6 Z"/>
<!-- chata label -->
<path fill="#ffffff" d="M1362.3,551.4 L1972.4,551.4 L1972.4,672.3 L1338.1,672.3 L1232.8,731 Z"/>
<text stroke="#1f1a17" stroke-width="1.5" stroke-linejoin="round" x="1398.5" y="623.2" font-size="62.8" fill="#1f1a17" text-anchor="start" font-weight="normal" textLength="511" lengthAdjust="spacingAndGlyphs">CHATA KOPŘIVNÁ</text>
<text stroke="#4a4a49" stroke-width="0.9" stroke-linejoin="round" x="1616" y="656" font-size="34.5" fill="#4a4a49" text-anchor="start" font-weight="normal" textLength="293.5" lengthAdjust="spacingAndGlyphs">POD PRADĚDEM</text>
<!-- restaurace label -->
<path fill="#bfa263" d="M1382.3,725 L1954.4,725 L1954.4,831 L1382.3,831 L1241.4,791.5 L1382.3,789 Z"/>
<text stroke="#ffffff" stroke-width="1.6" stroke-linejoin="round" x="1458.3" y="773.4" font-size="46" fill="#fff" text-anchor="start" font-weight="normal" textLength="406.3" lengthAdjust="spacingAndGlyphs">RESTAURACE-BAR</text>
<text stroke="#1f1a17" stroke-width="1.2" stroke-linejoin="round" x="1458.3" y="816.6" font-size="43.5" fill="#1f1a17" text-anchor="start" font-weight="normal" textLength="233.7" lengthAdjust="spacingAndGlyphs">KOPŘIVNÁ</text>
<g id="resticons"><g transform="translate(1731.2,802.6) scale(0.077687) translate(-402,-420)"><circle cx="402" cy="420" r="312" fill="none" stroke="#1f1a17" stroke-width="50"/><path fill="#1f1a17" d="M300,180 L300,280 Q310,330 345,340 L335,680 L380,680 L372,340 Q400,330 405,280 L405,180 L388,180 L388,270 L367,270 L367,180 L343,180 L343,270 L320,270 L320,180 Z"/><path fill="#1f1a17" d="M440,165 L495,165 L495,680 L450,680 L450,400 L430,350 Z"/></g><g transform="translate(1785.81,802.6) scale(0.077687) translate(-1105,-420)"><circle cx="1105" cy="420" r="312" fill="none" stroke="#1f1a17" stroke-width="50"/><path fill="#1f1a17" d="M960,405 L1250,405 Q1250,500 1160,560 L1180,575 L1270,575 L1255,605 L945,605 L930,575 L1040,575 Q960,500 960,405 Z"/><circle cx="1245" cy="460" r="36" fill="none" stroke="#1f1a17" stroke-width="22"/><path fill="none" stroke="#1f1a17" stroke-width="13" d="M1060,165 Q1085,210 1050,260 Q1025,305 1060,350 M1125,165 Q1150,210 1115,260 Q1090,305 1125,350"/></g><g transform="translate(1840.19,802.6) scale(0.077687) translate(-1805,-420)"><circle cx="1805" cy="420" r="312" fill="none" stroke="#1f1a17" stroke-width="50"/><path fill="#1f1a17" d="M1700,220 L1920,220 Q1950,330 1900,390 Q1860,430 1835,440 L1835,600 Q1900,605 1915,625 L1700,625 Q1720,605 1790,600 L1790,440 Q1740,420 1710,380 Q1670,320 1700,220 Z"/><path fill="#bfa263" d="M1714,248 L1906,248 L1914,290 L1706,290 Z"/><circle cx="1845" cy="400" r="17" fill="#bfa263"/></g></g>
<!-- skiservis -->
<path fill="#dc1279" d="M1572,976.5 L1892.1,976.5 L1892.1,1043.8 L1726.8,1043.8 L1692.6,1143.8 L1674.3,1043.8 L1572,1043.8 Z"/>
<!-- maja -->
<path fill="#ffffff" d="M1730.5,1049.5 L2146.6,1049.5 L2146.6,1126.5 L1768.3,1126.5 L1746.3,1163.3 L1715.8,1099.8 Z"/>

<text x="921.7" y="1029.5" font-size="33" fill="#fff" text-anchor="start" font-weight="normal" textLength="291.4" lengthAdjust="spacingAndGlyphs">LYŽAŘSKÁ ŠKOLA</text>
<text x="982.3" y="1078.9" font-size="30.2" fill="#fff" text-anchor="start" font-weight="normal" textLength="82.8" lengthAdjust="spacingAndGlyphs">KASA</text>
<text x="428.8" y="1253.7" font-size="37" fill="#fff" text-anchor="start" font-weight="normal" textLength="335.3" lengthAdjust="spacingAndGlyphs">BISTRO KOPŘIVNÁ</text>
<text x="1583.7" y="1009" font-size="33.5" fill="#fff" text-anchor="start" font-weight="normal" textLength="177.2" lengthAdjust="spacingAndGlyphs">SKISERVIS</text>
<text x="1704.2" y="1039.2" font-size="33.5" fill="#fff" text-anchor="start" font-weight="normal" textLength="181.7" lengthAdjust="spacingAndGlyphs">PŮJČOVNA</text>
<text stroke="#1f1a17" stroke-width="1.7" stroke-linejoin="round" x="1731.3" y="1106" font-size="44" fill="#1f1a17" text-anchor="start" font-weight="normal" textLength="106" lengthAdjust="spacingAndGlyphs">MAJA</text>
<text stroke="#1f1a17" stroke-width="1.7" stroke-linejoin="round" x="1886" y="1106" font-size="44" fill="#1f1a17" text-anchor="start" font-weight="normal" textLength="252.4" lengthAdjust="spacingAndGlyphs">UBYTOVÁNÍ</text>
<g id="bed"><circle cx="1860.2" cy="1087.4" r="21" fill="none" stroke="#1f1a17" stroke-width="2.4"/>
<g fill="#1f1a17"><rect x="1846.2" y="1077.4" width="2.4" height="19.3"/><circle cx="1852.1" cy="1081.6" r="2.1"/>
<path d="M1855.11,1085.11 L1855.62,1081.04 L1870.89,1081.55 Q1875.47,1082.57 1875.72,1086.74 L1850.03,1086.74 L1850.03,1085.11 Z"/>
<rect x="1848.5" y="1088.93" width="27.23" height="3.05"/>
<rect x="1872.67" y="1091.98" width="3.05" height="4.58"/></g></g>
<g id="pboxes">
<rect x="1262.95" y="1036.95" width="60.8" height="61.3" rx="3.2" fill="none" stroke="#fff" stroke-width="3.3"/><text stroke="#fff" stroke-width="2.0" stroke-linejoin="miter" x="1277.99" y="1076.7" font-size="49.44" fill="#fff" text-anchor="start" font-weight="bold">P</text><text stroke="#fff" stroke-width="1.3" stroke-linejoin="miter" x="1320.14" y="1093.05" font-size="36.73" fill="#fff" text-anchor="end" font-weight="bold">2</text>
<rect x="1283.45" y="1144.95" width="60.7" height="61.3" rx="3.2" fill="none" stroke="#fff" stroke-width="3.3"/><text stroke="#fff" stroke-width="2.0" stroke-linejoin="miter" x="1298.05" y="1184.4" font-size="50.0" fill="#fff" text-anchor="start" font-weight="bold">P</text><path fill="#fff" d="M1328.86,1176.01 L1334.96,1176.01 L1334.96,1201.78 L1326.82,1201.78 L1326.82,1185.23 Q1323.43,1188.49 1320.04,1189.85 L1320.04,1182.79 Q1326.14,1180.76 1328.86,1176.01 Z"/>
<rect x="1482.75" y="1169.45" width="60.4" height="60.7" rx="3.2" fill="none" stroke="#fff" stroke-width="3.3"/><text stroke="#fff" stroke-width="2.0" stroke-linejoin="miter" x="1497.59" y="1210.0" font-size="49.44" fill="#fff" text-anchor="start" font-weight="bold">P</text><text stroke="#fff" stroke-width="1.3" stroke-linejoin="miter" x="1541.15" y="1224.95" font-size="37.01" fill="#fff" text-anchor="end" font-weight="bold">3</text>
<rect x="1567.95" y="1098.15" width="60.7" height="61.0" rx="3.2" fill="none" stroke="#fff" stroke-width="3.3"/><text stroke="#fff" stroke-width="2.0" stroke-linejoin="miter" x="1582.79" y="1138.7" font-size="49.44" fill="#fff" text-anchor="start" font-weight="bold">P</text><text stroke="#fff" stroke-width="1.3" stroke-linejoin="miter" x="1626.63" y="1153.95" font-size="36.45" fill="#fff" text-anchor="end" font-weight="bold">4</text>
<rect x="1754.55" y="1239.05" width="60.4" height="60.6" rx="3.2" fill="none" stroke="#fff" stroke-width="3.3"/><text stroke="#fff" stroke-width="2.0" stroke-linejoin="miter" x="1769.39" y="1279.6" font-size="49.44" fill="#fff" text-anchor="start" font-weight="bold">P</text><text stroke="#fff" stroke-width="1.3" stroke-linejoin="miter" x="1812.94" y="1294.45" font-size="36.73" fill="#fff" text-anchor="end" font-weight="bold">5</text>
<rect x="1898.05" y="1135.55" width="56.6" height="57.0" rx="3.2" fill="none" stroke="#fff" stroke-width="3.3"/><text stroke="#fff" stroke-width="2.0" stroke-linejoin="miter" x="1912.46" y="1172.4" font-size="45.81" fill="#fff" text-anchor="start" font-weight="bold">P</text><text stroke="#fff" stroke-width="1.3" stroke-linejoin="miter" x="1950.98" y="1188.65" font-size="32.26" fill="#fff" text-anchor="end" font-weight="bold">6</text>
</g>
<!-- road texts -->
<text font-size="43.5" fill="#fff" transform="translate(88.6,1421.9) rotate(-4.87)" textLength="444.4" lengthAdjust="spacingAndGlyphs">směr Bruntál, Rýmařov</text>
<text font-size="43" fill="#fff" transform="translate(678,1365) rotate(-5.73)" textLength="617.7" lengthAdjust="spacingAndGlyphs">směr Praděd, Karlova Studánka</text>
</g>
<!-- LOGOS -->
<g id="logos">
<text stroke="#3fb1c4" stroke-width="0.8" stroke-linejoin="round" x="220.5" y="123" font-size="37" fill="#3fb1c4" text-anchor="start" font-weight="normal" textLength="171.5" lengthAdjust="spacingAndGlyphs">SKI AREÁL</text>
<text stroke="#6d6e70" stroke-width="0.8" stroke-linejoin="round" x="397.5" y="123" font-size="37" fill="#6d6e70" text-anchor="start" font-weight="normal" textLength="173.5" lengthAdjust="spacingAndGlyphs">KOPŘIVNÁ</text>
<text stroke="#3fb1c4" stroke-width="0.7" x="398.5" y="141.2" font-size="18.8" fill="#3fb1c4" text-anchor="start" font-weight="normal" textLength="174.5" lengthAdjust="spacingAndGlyphs">POD PRADĚDEM</text>
<g id="chairlift" fill="#1f1a17">
<path d="M598.1,48.3 L603.7,43.7 L607.8,46.3 L612.9,44.2 L615.4,41.2 L617.0,41.7 L616.4,46.8 L614.9,53.4 L607.8,77.8 L607.8,82.9 L604.2,82.9 L603.2,73.7 L605.3,60.5 L601.7,59.5 L601.2,52.4 Z"/>
<path d="M609.8,54.4 L612.4,53.9 L606.3,76.3 L604.7,74.7 Z" fill="#fff"/>
<path d="M597.1,84.4 L638.8,83.4 L639.1,91.0 L637.3,93.6 L634.7,91.0 L602.7,91.0 L598.6,93.6 L597.1,91.0 Z"/>
<path fill="none" stroke="#1f1a17" stroke-width="3" d="M597.6,90.0 L587.5,91.0 Q578.8,93.1 578.3,103.2 L578.8,121.5 M638.8,89.5 L648.5,90.5 Q656.6,93.1 656.8,101.2 L656.6,136.8"/>
<path stroke="#1f1a17" stroke-width="1.2" fill="none" d="M602.2,91.0 L597.1,110.3"/>
<path d="M580.3,117.5 L584.4,113.4 L589.0,112.4 L588.5,107.3 L592.5,103.7 L596.6,107.3 L597.1,111.4 L602.7,117.5 L606.8,116.4 L606.3,111.4 L610.9,108.3 L615.4,111.4 L615.4,116.4 L619.5,120.5 L623.6,117.5 L623.1,111.4 L627.1,108.3 L632.7,110.3 L631.2,116.4 L638.3,113.4 L640.9,110.3 L645.4,107.8 L650.5,110.9 L650.0,116.4 L655.1,120.5 L656.6,137.8 L651.5,140.9 L646.4,156.1 L643.4,163.2 L640.3,165.3 L642.9,140.9 L637.3,139.8 L633.2,141.9 L632.7,163.2 L630.2,163.2 L626.1,159.2 L617.0,139.8 L612.9,140.9 L607.8,158.1 L603.2,159.2 L603.7,141.9 L599.2,142.9 L597.6,154.1 L593.6,158.1 L589.5,156.1 L590.0,144.9 L586.4,140.9 L581.4,138.8 Z"/>
<path d="M671.4,120.0 L673.7,122.0 L672.9,125.1 L642.9,165.3 L639.8,164.8 L657.6,137.8 Z"/>
<path fill="#fff" d="M627.6,142.9 L631.2,142.4 L630.7,157.1 Z M638.8,141.9 L641.9,141.9 L640.3,155.1 Z"/>
<circle cx="592.5" cy="109.1" r="4.7"/><circle cx="610.9" cy="112.2" r="4.6"/><circle cx="627.3" cy="112.2" r="4.6"/><circle cx="645.6" cy="111.7" r="5.0"/><rect x="574.8" y="121.5" width="4.5" height="5.6" fill="none" stroke="#1f1a17" stroke-width="1.3"/>
</g>
<g font-weight="bold" fill="#77787a" stroke="#77787a" stroke-width="1.5">
<text x="798.5" y="122" font-size="32" fill="#77787a" text-anchor="start" font-weight="bold" textLength="15.5" lengthAdjust="spacingAndGlyphs">F</text>
<text x="831.5" y="122" font-size="32" fill="#77787a" text-anchor="start" font-weight="bold" textLength="20.5" lengthAdjust="spacingAndGlyphs">U</text>
<text x="867" y="122" font-size="32" fill="#77787a" text-anchor="start" font-weight="bold" textLength="21" lengthAdjust="spacingAndGlyphs">N</text>
<text x="903" y="122" font-size="32" fill="#77787a" text-anchor="start" font-weight="bold" textLength="85" lengthAdjust="spacingAndGlyphs">PARK</text>
<text x="970" y="156" font-size="23" fill="#77787a" text-anchor="start" font-weight="bold" textLength="192.5" lengthAdjust="spacingAndGlyphs">POD PRADĚDEM</text>
</g>
<text x="983" y="135" font-size="38.5" fill="#dc1279" text-anchor="start" font-weight="bold" textLength="189" lengthAdjust="spacingAndGlyphs" stroke="#dc1279" stroke-width="2" stroke-linejoin="round">KOPŘIVNÁ</text>
<g id="funicons" fill="#1f1a17">
<path d="M1091.1,50.4 L1095.9,50.4 L1096.3,54.5 L1101.4,58.6 L1103.5,62.8 L1101.4,69.0 L1098.7,72.5 L1099.4,82.8 L1095.9,84.2 L1095.6,92.5 L1092.5,97.3 L1087.6,97.7 L1085.2,93.2 L1086.6,84.2 L1082.8,81.4 L1078.0,84.9 L1073.1,84.2 L1070.4,80.1 L1070.4,73.1 L1073.8,67.6 L1079.3,65.2 L1083.5,65.6 L1082.8,61.4 L1089.0,56.6 Z"/><ellipse cx="1078.3" cy="75.2" rx="4.1" ry="5.6" fill="#fff"/><ellipse cx="1079.5" cy="75.5" rx="2.2" ry="2.6"/>
<path d="M1087.6,89.7 L1092.5,89.7 L1092.5,95.2 L1088.3,95.9 Z" fill="#fff"/><path d="M1087.6,73.1 L1090.4,72.5 L1091.1,81.4 L1088.3,82.1 Z" fill="#fff"/>
<path d="M1106.3,54.8 L1109.0,52.1 L1139.1,87.6 L1138.4,91.4 L1134.9,91.4 Z"/><path d="M1117.3,61.4 L1131.8,64.9 L1137.3,65.6 L1140.1,61.4 L1140.1,55.2 L1143.6,53.1 L1147.7,54.5 L1148.4,58.0 L1152.5,61.4 L1158.7,64.9 L1160.8,68.3 L1156.7,69.0 L1150.5,67.6 L1147.0,74.5 L1142.9,79.4 L1138.0,79.4 L1133.2,78.7 L1131.8,81.4 L1124.9,75.9 Z"/><circle cx="1128.4" cy="72.5" r="1.4" fill="#fff"/>
<path d="M1167.7,66.9 L1173.9,65.6 L1180.2,63.5 L1180.5,61.4 L1183.6,61.4 L1183.6,67.6 L1186.4,75.9 L1185.7,82.8 L1180.8,85.6 L1173.3,86.3 L1168.4,88.3 L1165.7,85.6 L1162.9,75.9 L1162.9,73.1 Z"/><path d="M1148.4,80.7 L1149.8,83.5 L1166.3,84.5 L1182.9,85.7 L1198.1,87.0 L1202.6,85.6 L1198.1,83.6 L1183.6,83.2 L1163.6,81.1 Z"/><path d="M1176.7,84.9 L1180.8,84.9 L1178.4,104.2 L1174.3,103.9 Z"/><circle cx="1177.4" cy="75.6" r="0.9" fill="#fff"/>
<line x1="1162.2" y1="52.4" x2="1173.9" y2="65.6" stroke="#1f1a17" stroke-width="1"/>
<line x1="1186.4" y1="81.4" x2="1205.7" y2="66.2" stroke="#1f1a17" stroke-width="0.9" stroke-dasharray="3 1.2"/>
</g>
<g id="chatalogo" fill="#6d6e70">
<path d="M1402.2,71.5 L1429.1,106.3 L1426.3,111.8 L1374.5,107.7 L1375.2,100.8 Z"/>
<path fill="#fff" d="M1413.9,81.4 L1429.1,87.0 L1426.3,100.8 Z"/>
<path d="M1412.5,80.0 L1434.6,88.3 L1437.4,95.2 L1430.5,95.2 L1427.7,88.3 L1412.5,81.4 Z"/>
<rect x="1433.5" y="74.5" width="3.6" height="22"/><rect x="1431.6" y="74.2" width="6" height="2.4"/>
<path d="M1429.1,95.9 L1535.4,93.2 L1535.4,99.4 L1429.1,99.4 Z"/>
<path d="M1440.1,99.4 L1451.9,99.4 L1451.9,102.8 Q1451.9,105.6 1449.1,105.6 L1442.9,105.6 Q1440.1,105.6 1440.1,102.8 Z M1454.0,99.4 L1465.7,99.4 L1465.7,102.8 Q1465.7,105.6 1462.9,105.6 L1456.7,105.6 Q1454.0,105.6 1454.0,102.8 Z M1467.8,99.4 L1479.5,99.4 L1479.5,102.8 Q1479.5,105.6 1476.7,105.6 L1470.5,105.6 Q1467.8,105.6 1467.8,102.8 Z M1481.6,99.4 L1493.3,99.4 L1493.3,102.8 Q1493.3,105.6 1490.6,105.6 L1484.3,105.6 Q1481.6,105.6 1481.6,102.8 Z M1495.4,99.4 L1507.1,99.4 L1507.1,102.8 Q1507.1,105.6 1504.4,105.6 L1498.1,105.6 Q1495.4,105.6 1495.4,102.8 Z M1509.2,99.4 L1520.9,99.4 L1520.9,102.8 Q1520.9,105.6 1518.2,105.6 L1512.0,105.6 Q1509.2,105.6 1509.2,102.8 Z M1523.0,99.4 L1534.7,99.4 L1534.7,102.8 Q1534.7,105.6 1532.0,105.6 L1525.8,105.6 Q1523.0,105.6 1523.0,102.8 Z "/>
<path d="M1425.0,99.4 L1440.1,99.4 L1434.6,111.8 L1426.3,111.8 Z"/>
<path d="M1559.6,60.4 L1591.4,98.0 L1589.3,101.5 L1539.6,100.8 L1535.4,106.3 L1531.3,104.9 L1531.3,98.0 L1546.5,80.0 Z"/>
<path fill="#fff" d="M1541.0,81.4 L1546.5,80.0 L1536.8,93.9 Z"/>
<rect x="1530.9" y="74.5" width="3.4" height="26"/><rect x="1529.9" y="74.2" width="7" height="2.2"/>
<rect x="1556.2" y="89.0" width="4.5" height="5" fill="#fff"/>
<path d="M1539.6,102.8 L1586.5,102.1 L1586.5,104.9 L1539.6,105.6 Z M1535.4,106.3 L1590.7,109.0 L1590.7,111.1 L1535.4,111.8 Z"/>
<path fill="#fff" d="M1547.9,103.8 h6 v3 h-6 Z M1560.3,103.8 h6 v3 h-6 Z M1572.7,103.5 h8 v3 h-8 Z"/>
<path d="M1378.0,112.9 L1492.6,112.5 L1596.2,112.1 L1596.2,113.7 L1492.6,115.3 L1378.0,115.7 Z"/>
<path d="M1383.5,106.3 h2 v8 h-2 Z"/>
</g>
<text stroke="#3fb1c4" stroke-width="0.8" x="1338" y="143.6" font-size="36.2" fill="#3fb1c4" text-anchor="start" font-weight="normal" textLength="283.8" lengthAdjust="spacingAndGlyphs">CHATA KOPŘIVNÁ</text>
<text stroke="#6d6e70" stroke-width="0.45" x="1458" y="161.8" font-size="17" fill="#6d6e70" text-anchor="start" font-weight="normal" textLength="163" lengthAdjust="spacingAndGlyphs">POD PRADĚDEM</text>
<circle cx="1786" cy="119.9" r="33.7" fill="#c0a062"/>
<g id="resticons-s"><g transform="translate(2019.7,133) scale(0.039775744) translate(-402,-420)"><circle cx="402" cy="420" r="312" fill="none" stroke="#c0a062" stroke-width="44"/><path fill="#c0a062" d="M300,180 L300,280 Q310,330 345,340 L335,680 L380,680 L372,340 Q400,330 405,280 L405,180 L388,180 L388,270 L367,270 L367,180 L343,180 L343,270 L320,270 L320,180 Z"/><path fill="#c0a062" d="M440,165 L495,165 L495,680 L450,680 L450,400 L430,350 Z"/></g><g transform="translate(2047.66,133) scale(0.039775744) translate(-1105,-420)"><circle cx="1105" cy="420" r="312" fill="none" stroke="#c0a062" stroke-width="44"/><path fill="#c0a062" d="M960,405 L1250,405 Q1250,500 1160,560 L1180,575 L1270,575 L1255,605 L945,605 L930,575 L1040,575 Q960,500 960,405 Z"/><circle cx="1245" cy="460" r="36" fill="none" stroke="#c0a062" stroke-width="22"/><path fill="none" stroke="#c0a062" stroke-width="13" d="M1060,165 Q1085,210 1050,260 Q1025,305 1060,350 M1125,165 Q1150,210 1115,260 Q1090,305 1125,350"/></g><g transform="translate(2075.51,133) scale(0.039775744) translate(-1805,-420)"><circle cx="1805" cy="420" r="312" fill="none" stroke="#c0a062" stroke-width="44"/><path fill="#c0a062" d="M1700,220 L1920,220 Q1950,330 1900,390 Q1860,430 1835,440 L1835,600 Q1900,605 1915,625 L1700,625 Q1720,605 1790,600 L1790,440 Q1740,420 1710,380 Q1670,320 1700,220 Z"/><path fill="#f4f4f4" d="M1714,248 L1906,248 L1914,290 L1706,290 Z"/><circle cx="1845" cy="400" r="17" fill="#f4f4f4"/></g></g>
<path id="nettle-s" fill="#fffdf0" d="M1786.0,90.9 L1787.6,90.9 L1787.9,102.8 L1787.1,112.0 L1785.4,112.0 L1785.2,102.8 Z M1775.9,99.5 L1783.0,93.8 L1785.2,94.7 L1784.6,97.4 L1777.6,99.0 Z M1789.0,93.6 L1794.4,97.4 L1792.8,97.9 L1789.5,95.7 Z M1771.1,118.0 L1772.1,114.2 L1779.7,104.4 L1783.0,103.9 L1782.5,106.6 L1776.5,114.7 L1773.2,118.0 Z M1789.0,97.9 L1792.8,101.2 L1797.1,110.4 L1799.8,118.5 L1793.9,112.6 L1790.1,106.1 Z M1768.6,134.8 L1769.4,131.6 L1775.4,122.9 L1780.8,118.0 L1780.3,121.3 L1775.4,127.2 L1770.5,133.7 Z M1790.1,116.9 L1793.9,116.4 L1799.8,122.3 L1804.2,128.9 L1796.6,122.9 L1791.1,119.1 Z M1779.2,128.9 L1784.1,120.7 L1787.9,121.3 L1790.1,124.5 L1793.9,127.8 L1795.5,131.0 L1793.9,134.8 L1793.3,142.4 L1790.6,138.6 L1788.4,147.8 L1785.2,144.0 L1782.5,137.5 L1781.9,132.1 Z M1792.2,126.1 L1797.1,128.9 L1800.9,134.8 L1796.0,131.0 Z"/>
<text stroke="#6d6e70" stroke-width="0.7" x="1821.6" y="117.4" font-size="33" fill="#6d6e70" text-anchor="start" font-weight="normal" textLength="265" lengthAdjust="spacingAndGlyphs">RESTAURACE-BAR</text>
<text stroke="#c0a062" stroke-width="0.9" x="1821.6" y="145.4" font-size="31" fill="#c0a062" text-anchor="start" font-weight="normal" textLength="153" lengthAdjust="spacingAndGlyphs">KOPŘIVNÁ</text>
</g>
</svg>
</body></html>
